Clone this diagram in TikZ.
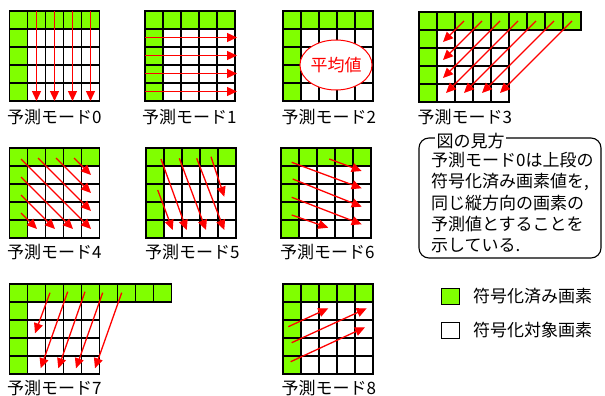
\documentclass[tikz,border=0pt]{standalone}
\usepackage{fontspec}
\setmainfont{Noto Sans CJK JP}
\usetikzlibrary{arrows.meta,shapes.geometric}
\definecolor{pgreen}{HTML}{80FF00}
\tikzset{
  gl/.style={line width=1.3pt, black, line cap=rect},
  arr/.style={red, line width=1.3pt, -{Triangle[length=10pt,width=9pt]}},
  lbl/.style={anchor=west, inner sep=0pt, font=\fontsize{17}{20}\selectfont},
  txt/.style={anchor=west, inner sep=0pt, font=\fontsize{17}{20}\selectfont},
}
\newcommand\pgrid[3]{%
  \begin{scope}[shift={(#1,#2)}]
    \fill[pgreen] (0,0) rectangle (#3*18,18);
    \fill[pgreen] (0,0) rectangle (18,90);
    \foreach \k in {0,...,5}{\draw[gl] (\k*18,0) -- (\k*18,90); \draw[gl] (0,\k*18) -- (90,\k*18);}
    \ifnum#3>5
      \foreach \k in {6,...,#3}{\draw[gl] (\k*18,0) -- (\k*18,18);}
      \draw[gl] (90,0) -- (#3*18,0);
      \draw[gl] (90,18) -- (#3*18,18);
    \fi
  \end{scope}}
\begin{document}
\begin{tikzpicture}[x=1pt,y=-1pt]
\useasboundingbox (0,0) rectangle (605,396);
% grids
\pgrid{9.5}{11}{5}
\pgrid{145}{11}{5}
\pgrid{283}{11}{5}
\pgrid{419}{12}{9}
\pgrid{9.5}{148}{5}
\pgrid{146}{148}{5}
\pgrid{281}{148}{5}
\pgrid{9.5}{284}{9}
\pgrid{283}{284}{5}
% mode 0
\foreach \x in {36.5,54.5,72.5,90.5} \draw[arr] (\x,11) -- (\x,101);
% mode 1
\foreach \y in {37.5,55.5,73.5,91.5} \draw[arr] (145,\y) -- (237,\y);
% mode 2
\node[draw=red, line width=1pt, fill=white, ellipse, minimum width=70, minimum height=50, inner sep=0pt, text=red, font=\fontsize{17}{20}\selectfont] (avg) at (336,65) {平均値};
% mode 3
\draw[arr] (464,21) -- (443,42);
\draw[arr] (482,21) -- (443,60);
\draw[arr] (500,21) -- (443,78);
\draw[arr] (518,21) -- (446,93);
\draw[arr] (536,21) -- (464,93);
\draw[arr] (554,21) -- (482,93);
\draw[arr] (572,21) -- (500,93);
% mode 4
\draw[arr] (74,158) -- (91,175);
\draw[arr] (56,158) -- (91,193);
\draw[arr] (38,158) -- (91,211);
\draw[arr] (21,159) -- (91,229);
\draw[arr] (21,177) -- (73,229);
\draw[arr] (21,195) -- (55,229);
\draw[arr] (21,213) -- (37,229);
% mode 5
\draw[arr] (161,159) -- (186.7,230);
\draw[arr] (179.3,158.3) -- (206,230);
\draw[arr] (196.7,158.3) -- (224.3,230);
\draw[arr] (211,156.7) -- (224.3,196.7);
\draw[arr] (157.7,190) -- (172.7,230);
% mode 6
\draw[arr] (291.7,162.3) -- (361.7,188.3);
\draw[arr] (329.3,159) -- (361.7,171);
\draw[arr] (292.7,179) -- (361.7,206.7);
\draw[arr] (291.7,197.3) -- (361.7,224.3);
\draw[arr] (291.7,215) -- (328.3,227.7);
% mode 7
\draw[arr] (50,292.7) -- (35,333.3);
\draw[arr] (67.7,291.7) -- (40.7,368.3);
\draw[arr] (85,291.7) -- (58.3,368.3);
\draw[arr] (102.7,292.7) -- (76,368.3);
\draw[arr] (121.7,292.7) -- (95,368.3);
% mode 8
\draw[arr] (288.3,326.7) -- (328.3,308.3);
\draw[arr] (291.7,342.7) -- (366.7,308.3);
\draw[arr] (290.7,361.7) -- (365,327.3);
% labels
\node[lbl] (l0) at (7,117) {予測モード0};
\node[lbl] (l1) at (142,117) {予測モード1};
\node[lbl] (l2) at (281.5,117) {予測モード2};
\node[lbl] (l3) at (417.5,117) {予測モード3};
\node[lbl] (l4) at (7,252) {予測モード4};
\node[lbl] (l5) at (145,252) {予測モード5};
\node[lbl] (l6) at (280,252) {予測モード6};
\node[lbl] (l7) at (7,388) {予測モード7};
\node[lbl] (l8) at (281.5,388) {予測モード8};
% explanation box
\draw[line width=1.1pt, rounded corners=10pt] (419,138) rectangle (601,258);
\node[txt, fill=white, inner xsep=1.5pt] (title) at (435,141) {図の見方};
\node[txt] (e1) at (431,160) {予測モード0は上段の};
\node[txt] (e2) at (431,181.5) {符号化済み画素値を,};
\node[txt] (e3) at (431,203) {同じ縦方向の画素の};
\node[txt] (e4) at (431,224.5) {予測値とすることを};
\node[txt] (e5) at (431,246) {示している.};
% legend
\draw[line width=1pt, fill=pgreen] (441,288.5) rectangle (459,304) node[coordinate] (gk) {};
\draw[line width=1pt, fill=white] (441,322.5) rectangle (459,338) node[coordinate] (wk) {};
\node[txt] (lg1) at (473,296.5) {符号化済み画素};
\node[txt] (lg2) at (473,330) {符号化対象画素};
\end{tikzpicture}
\end{document}
